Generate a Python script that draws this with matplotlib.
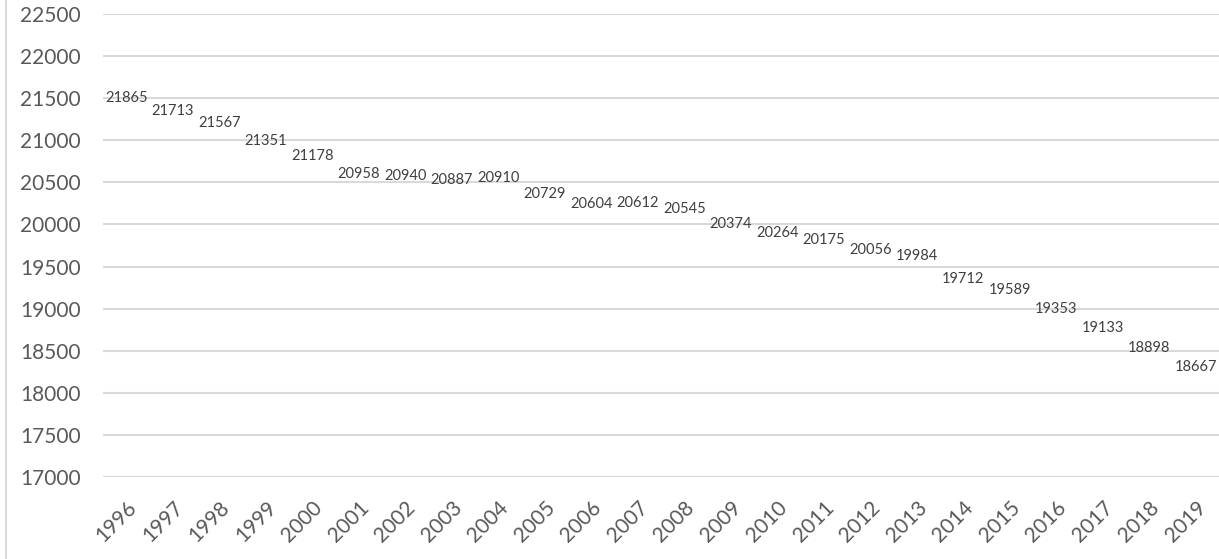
import matplotlib.pyplot as plt
from matplotlib.lines import Line2D

# Ma'lumotlar
years = [str(y) for y in range(1996, 2020)]
values = [21865, 21713, 21567, 21351, 21178, 20958, 20940, 20887, 20910, 20729,
          20604, 20612, 20545, 20374, 20264, 20175, 20056, 19984, 19712, 19589,
          19353, 19133, 18898, 18667]
y_ticks = list(range(17000, 23000, 500))

plt.rcParams['font.family'] = ['Lato', 'DejaVu Sans']

fig = plt.figure(figsize=(12.19, 5.59), dpi=100)
ax = fig.add_axes([103 / 1219, 82 / 559, 1 - 103 / 1219, 463 / 559])

x = list(range(len(years)))
# chiziq ko'rinmaydi, faqat qiymat yorliqlari
ax.plot(x, values, linestyle='none')
for xi, v in zip(x, values):
    ax.annotate(str(v), (xi, v), xytext=(0, -22), textcoords='offset points',
                ha='center', va='center', fontsize=10.5, color='#404040')

ax.set_xlim(-0.5, len(years) - 0.5)
ax.set_ylim(17000, 22500)
ax.set_yticks(y_ticks)
ax.set_xticks(x)
ax.set_xticklabels(years, rotation=45, ha='right', va='top', rotation_mode='anchor')
ax.tick_params(axis='both', length=0, labelsize=15, labelcolor='#595959')
ax.tick_params(axis='y', pad=16)
ax.tick_params(axis='x', pad=15)
ax.grid(axis='y', color='#d9d9d9', linewidth=1.5)
ax.set_axisbelow(True)
for s in ax.spines.values():
    s.set_visible(False)

fig.add_artist(Line2D([6 / 1219, 6 / 1219], [0, 1], color='#d9d9d9', linewidth=1.5))

fig.savefig('out.png', dpi=100)
